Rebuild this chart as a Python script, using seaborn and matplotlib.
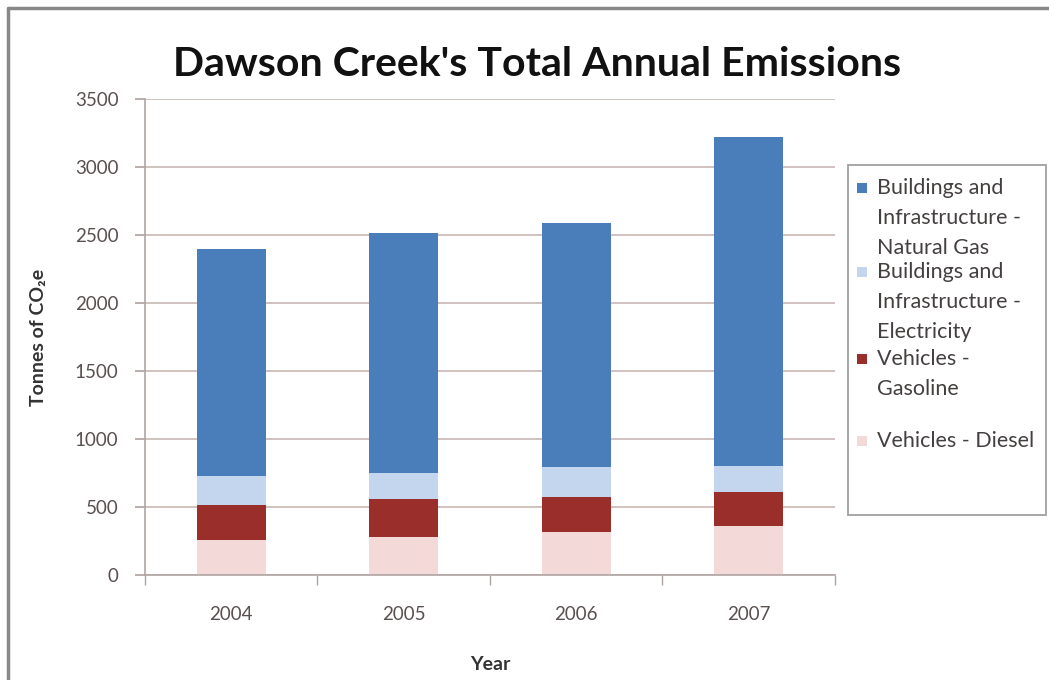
import matplotlib
matplotlib.use("Agg")
import matplotlib.pyplot as plt
from matplotlib.patches import Rectangle
import seaborn as sns
import pandas as pd
import numpy as np

years = ["2004", "2005", "2006", "2007"]
diesel = [260, 280, 320, 360]
gasoline = [255, 280, 255, 250]
electricity = [215, 190, 220, 190]
natural_gas = [1670, 1765, 1795, 2420]

series_names = [
    "Buildings and\nInfrastructure -\nNatural Gas",
    "Buildings and\nInfrastructure -\nElectricity",
    "Vehicles -\nGasoline",
    "Vehicles - Diesel",
]
colors = ["#4a7ebb", "#c3d6ee", "#9a2e2a", "#f3d9d8"]

sns.set_theme(style="white")
plt.rcParams["font.family"] = ["Lato", "DejaVu Sans"]

W, H = 1049, 680
fig = plt.figure(figsize=(W / 100, H / 100), dpi=100)
ax = fig.add_axes([0.138, 0.154, 0.658, 0.700])

# stacked via cumulative sums (draw tallest first)
layers_bottom_up = [diesel, gasoline, electricity, natural_gas]
cum = np.cumsum(np.array(layers_bottom_up), axis=0)
layer_colors_bottom_up = [colors[3], colors[2], colors[1], colors[0]]
for i in range(3, -1, -1):
    df = pd.DataFrame({"Year": years, "val": cum[i]})
    sns.barplot(data=df, x="Year", y="val", color=layer_colors_bottom_up[i],
                width=0.4, saturation=1, ax=ax, edgecolor="none", zorder=2)

ax.set_ylim(0, 3500)
ax.set_xlim(-0.5, 3.5)
ax.set_yticks(range(0, 3501, 500))
ax.yaxis.grid(True, color="#c9b8b4", linewidth=1.2, zorder=0)
ax.set_axisbelow(True)
for s in ["top", "right"]:
    ax.spines[s].set_visible(False)
for s in ["left", "bottom"]:
    ax.spines[s].set_color("#b0a4a2")
    ax.spines[s].set_linewidth(1.2)
ax.tick_params(axis="both", colors="#b0a4a2", labelcolor="#5a5050", labelsize=13.5,
               length=7, direction="out", left=True, bottom=True)
ax.tick_params(axis="y", pad=12)
ax.set_xticks([0, 1, 2, 3])
ax.set_xticks([0.5, 1.5, 2.5, 3.5, -0.5], minor=True)
ax.tick_params(axis="x", which="major", length=0, pad=22)
ax.tick_params(axis="x", which="minor", length=7, color="#b0a4a2", bottom=True)

ax.set_xlabel("Year", fontsize=14, fontweight="bold", color="#333333", labelpad=24)
ax.set_ylabel("Tonnes of CO\u2082e", fontsize=14, fontweight="bold", color="#333333", labelpad=20)

fig.suptitle("Dawson Creek's Total Annual Emissions", x=0.512, y=0.932,
             fontsize=29.5, fontweight="bold", color="#111111")

# Excel-style legend box drawn in figure pixel coordinates
def fx(px):
    return px / W

def fy(py):
    return 1 - py / H

fig.add_artist(Rectangle((fx(848), fy(515)), fx(1046) - fx(848), fy(165) - fy(515),
                         transform=fig.transFigure, facecolor="white",
                         edgecolor="#a0a0a0", linewidth=1.3, zorder=5))
entry_tops = [188, 272, 359, 441]
line_step = 30
for name, c, top in zip(series_names, colors, entry_tops):
    fig.add_artist(Rectangle((fx(857), fy(top + 5)), fx(10), 10 / H,
                             transform=fig.transFigure, facecolor=c,
                             edgecolor="none", zorder=6))
    for k, line in enumerate(name.split("\n")):
        fig.text(fx(877), fy(top + k * line_step), line, fontsize=15.5,
                 color="#454040", va="center", ha="left", zorder=6)

# screenshot border (top and left)
fig.add_artist(plt.Line2D([0.008, 1.0], [0.988, 0.988], color="#888888", linewidth=2.5,
                          transform=fig.transFigure))
fig.add_artist(plt.Line2D([0.008, 0.008], [0.0, 0.988], color="#888888", linewidth=2.5,
                          transform=fig.transFigure))

fig.savefig("out.png", dpi=100)
